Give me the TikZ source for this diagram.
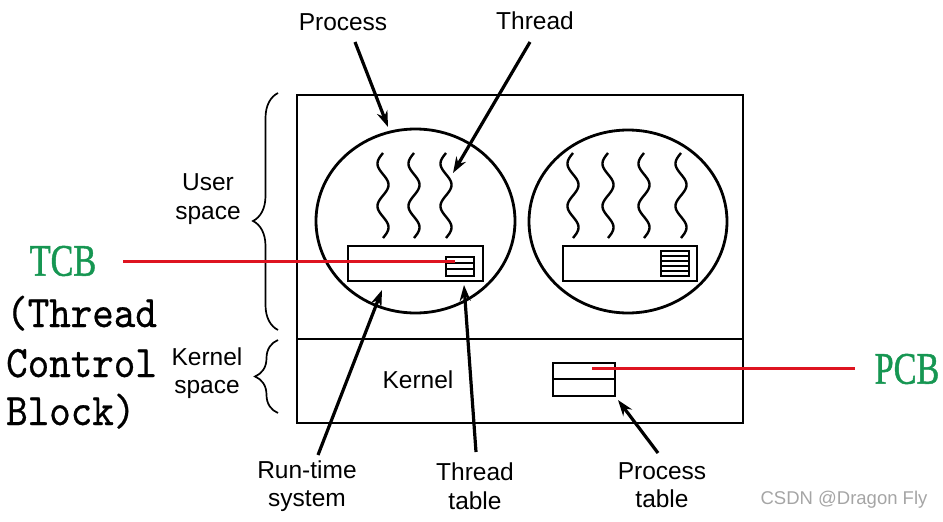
\documentclass[tikz,border=0pt]{standalone}
\usepackage{fontspec}
\setsansfont{Liberation Sans}
\newfontfamily\cbserif[FakeBold=1.2]{Liberation Serif}
\newfontfamily\cbmono[FakeBold=0.6]{lmmono10-regular.otf}
\usepackage{graphicx}
\usetikzlibrary{arrows.meta,decorations.pathreplacing,shapes.geometric}
\definecolor{cbgreen}{RGB}{22,150,82}
\definecolor{tcbred}{RGB}{222,20,32}
\definecolor{wmgray}{RGB}{165,165,165}
\begin{document}
\begin{tikzpicture}[x=1pt,y=-1pt,
  lbl/.style={font=\sffamily\fontsize{24.5}{28.5}\selectfont, align=center, inner sep=0pt},
  boxline/.style={line width=2.8pt},
  thinbox/.style={line width=2.3pt},
  wave/.style={line width=2.4pt},
  arr/.style={line width=3.2pt, -{Stealth[length=16pt,width=11pt]}},
  redline/.style={tcbred, line width=3pt},
  bracestyle/.style={decorate, line width=1.7pt},
  cbtext/.style={text=cbgreen, inner sep=0pt, font=\cbserif\fontsize{45}{45}\selectfont},
  monotext/.style={anchor=base west, inner sep=0pt, font=\cbmono\fontsize{41}{41}\selectfont}]
\useasboundingbox (0,0) rectangle (943,522);

% outer frame
\node[draw, boxline, minimum width=446pt, minimum height=328pt, inner sep=0pt] (frame) at (520,259) {};
\draw[boxline] (297,339) coordinate (divl) -- (743,339) coordinate (divr);

% processes
\node[draw, boxline, ellipse, minimum width=199pt, minimum height=184pt, inner sep=0pt] (proc1) at (415.5,221) {};
\node[draw, boxline, ellipse, minimum width=198pt, minimum height=183pt, inner sep=0pt] (proc2) at (628,221.5) {};

% threads
\foreach \wx in {383,414,446,573,608,644,681}
  \draw[wave] plot[domain=180:900, samples=90, variable=\t] ({\wx+5.5*sin(\t)},{153+(\t-180)/720*85});

% run-time systems
\node[draw, thinbox, minimum width=135pt, minimum height=35pt, inner sep=0pt] (rts1) at (415.5,263.5) {};
\node[draw, thinbox, minimum width=134pt, minimum height=35pt, inner sep=0pt] (rts2) at (630,263.5) {};
% thread tables
\node[draw, thinbox, minimum width=28pt, minimum height=19pt, inner sep=0pt] (tt1) at (460,266.5) {};
\draw[thinbox] (446,262.8) -- (474,262.8) (446,269.3) -- (474,269.3);
\node[draw, thinbox, minimum width=28pt, minimum height=25pt, inner sep=0pt] (tt2) at (675,263.5) {};
\foreach \ry in {256,261,266,271} \draw[line width=1.8pt] (661,\ry) -- (689,\ry);

% process table
\node[draw, thinbox, minimum width=62pt, minimum height=33pt, inner sep=0pt] (ptab) at (584,379.5) {};
\draw[thinbox] (553,379) -- (615,379);

% braces
\draw[bracestyle, decoration={brace, amplitude=25pt, aspect=0.46}] (278,330) -- (278,93);
\draw[bracestyle, decoration={brace, amplitude=23pt, aspect=0.5}] (278,413) -- (278,340);

% labels
\node[lbl] (lprocess) at (343,22) {Process};
\node[lbl] (lthread) at (535,21) {Thread};
\node[lbl] (luser) at (208,199) {User\\space};
\node[lbl] (lkspace) at (207,373) {Kernel\\space};
\node[lbl] (lkernel) at (418,380) {Kernel};
\node[lbl] (lrts) at (307,486) {Run-time\\system};
\node[lbl] (ltt) at (475,486) {Thread\\table};
\node[lbl] (lpt) at (662,485) {Process\\table};

% arrows
\coordinate (a1s) at (355,42);  \coordinate (a1e) at (388,127);
\coordinate (a2s) at (530,42);  \coordinate (a2e) at (453,173);
\coordinate (a3s) at (318,455); \coordinate (a3e) at (382,290);
\coordinate (a4s) at (476,452); \coordinate (a4e) at (464,285);
\coordinate (a5s) at (658,453); \coordinate (a5e) at (618,400);
\draw[arr] (a1s) -- (a1e);
\draw[arr] (a2s) -- (a2e);
\draw[arr] (a3s) -- (a3e);
\draw[arr] (a4s) -- (a4e);
\draw[arr] (a5s) -- (a5e);

% TCB / PCB
\node[cbtext] (tcb) at (63,261) {\scalebox{0.76}[1]{TCB}};
\node[cbtext] (pcb) at (907,369) {\scalebox{0.76}[1]{PCB}};
\coordinate (tcbs) at (123,261); \coordinate (tcbe) at (455,261);
\coordinate (pcbs) at (592,368); \coordinate (pcbe) at (855,368);
\draw[redline] (tcbs) -- (tcbe);
\draw[redline] (pcbs) -- (pcbe);

\node[monotext] (m1) at (6,327) {\scalebox{1}[1.1]{(Thread}};
\node[monotext] (m2) at (6,377) {\scalebox{1}[1.1]{Control}};
\node[monotext] (m3) at (6,425) {\scalebox{1}[1.1]{Block)}};

\node[text=wmgray, inner sep=0pt, font=\sffamily\fontsize{18.5}{18.5}\selectfont] (wm) at (844,500) {CSDN @Dragon Fly};
\end{tikzpicture}
\end{document}
